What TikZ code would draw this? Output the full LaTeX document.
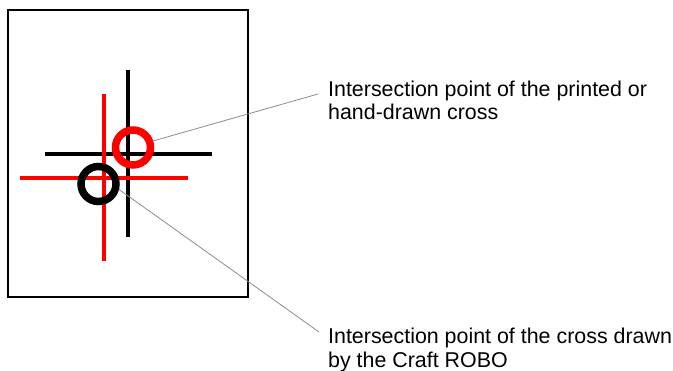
\documentclass[tikz,border=0pt]{standalone}
\usepackage{fontspec}
\setmainfont{Liberation Sans}
\usetikzlibrary{positioning}
\definecolor{cred}{RGB}{255,0,0}
\definecolor{cgray}{RGB}{140,140,140}

\begin{document}
\begin{tikzpicture}[
    x=1pt, y=-1pt,
    every node/.style={font=\fontsize{21.4}{23.5}\selectfont},
    crossline/.style={line width=4pt},
    ring/.style={circle, draw, line width=7.5pt, minimum size=35pt, inner sep=0pt},
    leader/.style={cgray, line width=0.8pt},
    note/.style={anchor=north west, inner sep=0pt, align=left},
]
    \useasboundingbox (0, 0) rectangle (673, 371);

    % Sheet
    \draw[line width=2.2pt] (8, 10) rectangle (248, 297);

    % Printed cross (black)
    \draw[crossline] (128, 70) -- (128, 237);
    \draw[crossline] (45, 154) -- (212, 154);

    % Cross drawn by the cutter (red)
    \draw[crossline, cred] (104, 94) -- (104, 261);
    \draw[crossline, cred] (20, 178) -- (188, 178);

    % Intersection marks
    \node[ring, cred] (redring) at (133, 147.5) {};
    \node[ring] (blkring) at (98.5, 184) {};

    % Notes
    \node[note] (printnote) at (328, 80.5)
        {Intersection point of the printed or\\hand-drawn cross};
    \node[note] (robonote) at (328, 328)
        {Intersection point of the cross drawn\\by the Craft ROBO};

    % Leader lines
    \coordinate (printtip) at (318, 94);
    \coordinate (robotip) at (319, 332);
    \draw[leader] (redring.18) -- (printtip);
    \draw[leader] (blkring.-15) -- (robotip);
\end{tikzpicture}
\end{document}
